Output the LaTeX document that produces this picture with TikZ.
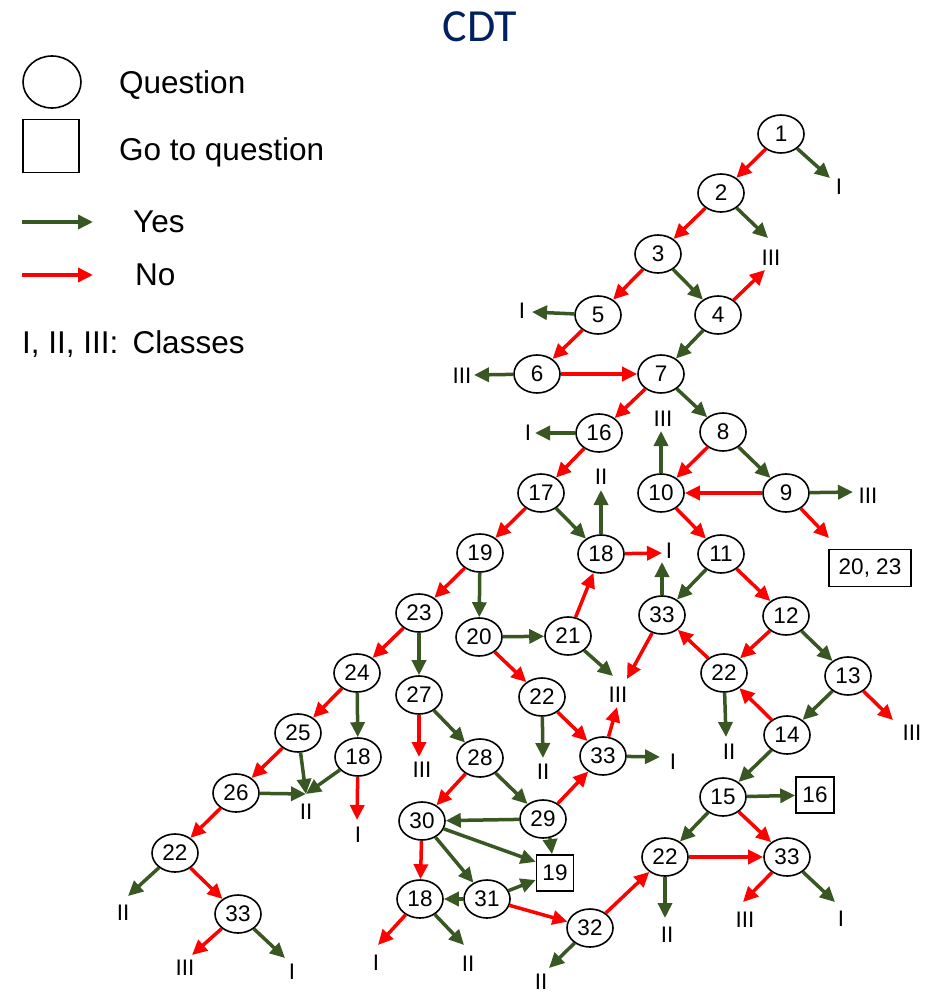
\documentclass[tikz,border=0pt]{standalone}
\usepackage{fontspec}
\setmainfont{Liberation Sans}
\newfontfamily\titlefont{Carlito}
\usetikzlibrary{shapes.geometric,arrows.meta}
\definecolor{ygreen}{RGB}{56,87,35}
\definecolor{nored}{RGB}{255,0,0}
\definecolor{navyblue}{RGB}{0,32,96}
\begin{document}
\begin{tikzpicture}[x=1pt,y=-1pt,
 qn/.style={ellipse,draw,line width=1.6pt,minimum width=46pt,minimum height=38pt,inner sep=0pt,font=\fontsize{22.5}{22.5}\selectfont},
 gobox/.style={draw,line width=1.6pt,inner sep=0pt,font=\fontsize{22.5}{22.5}\selectfont},
 cls/.style={inner sep=0pt,font=\fontsize{22.5}{22.5}\selectfont},
 yes/.style={draw=ygreen,line width=3.5pt,-{Triangle[length=15pt,width=14pt]}},
 no/.style={draw=nored,line width=3.5pt,-{Triangle[length=15pt,width=14pt]}},
 leg/.style={inner sep=0pt,anchor=base west,font=\fontsize{31.5}{31.5}\selectfont}]
\useasboundingbox (0,0) rectangle (935,995);

% title
\node[inner sep=0pt,anchor=base,text=navyblue,font=\titlefont\fontsize{46}{46}\selectfont] (title) at (480,42) {CDT};

% legend
\node[ellipse,draw,line width=1.6pt,minimum width=58pt,minimum height=52pt] (legq) at (52,82) {};
\node[draw,line width=1.6pt,minimum width=56pt,minimum height=53pt] (legb) at (51,146) {};
\node[leg] (tq) at (119,94) {Question};
\node[leg] (tg) at (119,161) {Go to question};
\coordinate (ya) at (22,222); \coordinate (yb) at (93,222);
\coordinate (na) at (22,275); \coordinate (nb) at (93,275);
\draw[yes] (ya) -- (yb);
\draw[no] (na) -- (nb);
\node[leg] (ty) at (133,232) {Yes};
\node[leg] (tn) at (135,285) {No};
\node[leg] (tc) at (22,353) {I, II, III:\, Classes};

% question nodes
\node[qn] (n1) at (781,134) {1};
\node[qn] (n2) at (721,193) {2};
\node[qn] (n3) at (658,254) {3};
\node[qn] (n4) at (718,315) {4};
\node[qn] (n5) at (598,315) {5};
\node[qn] (n6) at (537,374) {6};
\node[qn] (n7) at (661,374) {7};
\node[qn] (n16) at (599,433) {16};
\node[qn] (n8) at (723,432) {8};
\node[qn] (n10) at (661,493) {10};
\node[qn] (n9) at (786,493) {9};
\node[qn] (n17) at (541,493) {17};
\node[qn] (n18a) at (601,554) {18};
\node[qn] (n19) at (480,553) {19};
\node[qn] (n11) at (721,554) {11};
\node[qn] (n33a) at (662,615) {33};
\node[qn] (n12) at (786,616) {12};
\node[qn] (n23) at (419,613) {23};
\node[qn] (n20) at (479,637) {20};
\node[qn] (n21) at (568,636) {21};
\node[qn] (n22c) at (724,673) {22};
\node[qn] (n13) at (848,676) {13};
\node[qn] (n24) at (357,673) {24};
\node[qn] (n27) at (419,695) {27};
\node[qn] (n22b) at (542,697) {22};
\node[qn] (n14) at (787,735) {14};
\node[qn] (n25) at (298,733) {25};
\node[qn] (n18b) at (358,757) {18};
\node[qn] (n28) at (480,758) {28};
\node[qn] (n33b) at (603,756) {33};
\node[qn] (n26) at (236,793) {26};
\node[qn] (n15) at (723,797) {15};
\node[qn] (n29) at (543,819) {29};
\node[qn] (n30) at (422,821) {30};
\node[qn] (n22a) at (175,853) {22};
\node[qn] (n22d) at (665,857) {22};
\node[qn] (n33c) at (787,857) {33};
\node[qn] (n18c) at (420,899) {18};
\node[qn] (n31) at (487,899) {31};
\node[qn] (n33d) at (238,914) {33};
\node[qn] (n32) at (590,928) {32};

% go-to boxes
\node[gobox,minimum width=82pt,minimum height=37pt] (b2023) at (870,568) {20, 23};
\node[gobox,minimum width=38pt,minimum height=36pt] (b16) at (815,795) {16};
\node[gobox,minimum width=37pt,minimum height=36pt] (b19) at (555,873) {19};

% class labels
\node[cls] (L1) at (839,187) {I};
\node[cls] (L2) at (771,258) {III};
\node[cls] (L5) at (522,311) {I};
\node[cls] (L6) at (462,376) {III};
\node[cls] (L16) at (528,433) {I};
\node[cls] (L10) at (663,419) {III};
\node[cls] (L9) at (868,496) {III};
\node[cls] (L18u) at (601,477) {II};
\node[cls] (L18r) at (669,551) {I};
\node[cls] (L21) at (618,695) {III};
\node[cls] (L22b) at (543,772) {II};
\node[cls] (L33b) at (673,762) {I};
\node[cls] (L27) at (422,770) {III};
\node[cls] (L22c) at (729,752) {II};
\node[cls] (L13) at (912,733) {III};
\node[cls] (L22d) at (667,935) {II};
\node[cls] (L33cl) at (745,920) {III};
\node[cls] (L33cr) at (841,919) {I};
\node[cls] (L32) at (541,982) {II};
\node[cls] (L18cl) at (376,963) {I};
\node[cls] (L18cr) at (468,964) {II};
\node[cls] (L25) at (306,812) {II};
\node[cls] (L18b) at (358,835) {I};
\node[cls] (L22a) at (123,913) {II};
\node[cls] (L33dl) at (185,968) {III};
\node[cls] (L33dr) at (292,972) {I};

% arrow tips at classes
\coordinate (t1) at (830,178);
\coordinate (t2a) at (768,238);
\coordinate (t2b) at (765,270);
\coordinate (t5) at (532,312);
\coordinate (t6) at (474,375);
\coordinate (t16) at (535,433);
\coordinate (t10) at (661,431);
\coordinate (t9) at (853,492);
\coordinate (t9b) at (829,538);
\coordinate (t18u) at (601,490);
\coordinate (t18r) at (662,553);
\coordinate (t33u) at (662,562);
\coordinate (t33d) at (627,679);
\coordinate (t21) at (613,676);
\coordinate (t33bu) at (617,707);
\coordinate (t22b) at (543,758);
\coordinate (t33br) at (660,757);
\coordinate (t27) at (419,757);
\coordinate (t22c) at (726,737);
\coordinate (t13) at (893,720);
\coordinate (t22d) at (665,918);
\coordinate (t33cl) at (743,902);
\coordinate (t33cr) at (835,902);
\coordinate (t32) at (549,968);
\coordinate (t18cl) at (378,945);
\coordinate (t18cr) at (464,945);
\coordinate (t25) at (306,794);
\coordinate (t18b) at (357,820);
\coordinate (t22a) at (128,896);
\coordinate (t33dl) at (192,955);
\coordinate (t33dr) at (285,958);

% connectors
\draw[no] (n1) -- (n2);
\draw[yes] (n1) -- (t1);
\draw[no] (n2) -- (n3);
\draw[yes] (n2) -- (t2a);
\draw[no] (n3) -- (n5);
\draw[yes] (n3) -- (n4);
\draw[no] (n4) -- (t2b);
\draw[yes] (n4) -- (n7);
\draw[yes] (n5) -- (t5);
\draw[no] (n5) -- (n6);
\draw[yes] (n6) -- (t6);
\draw[no] (n6) -- (n7);
\draw[no] (n7) -- (n16);
\draw[yes] (n7) -- (n8);
\draw[yes] (n16) -- (t16);
\draw[no] (n16) -- (n17);
\draw[no] (n8) -- (n10);
\draw[yes] (n8) -- (n9);
\draw[yes] (n10) -- (t10);
\draw[no] (n10) -- (n11);
\draw[no] (n9) -- (n10);
\draw[yes] (n9) -- (t9);
\draw[no] (n9) -- (t9b);
\draw[no] (n17) -- (n19);
\draw[yes] (n17) -- (n18a);
\draw[yes] (n18a) -- (t18u);
\draw[no] (n18a) -- (t18r);
\draw[yes] (n11) -- (n33a);
\draw[no] (n11) -- (n12);
\draw[yes] (n33a) -- (t33u);
\draw[no] (n33a) -- (t33d);
\draw[no] (n12) -- (n22c);
\draw[yes] (n12) -- (n13);
\draw[no] (n19) -- (n23);
\draw[yes] (n19) -- (n20);
\draw[yes] (n20) -- (n21);
\draw[no] (n20) -- (n22b);
\draw[no] (n21) -- (n18a);
\draw[yes] (n21) -- (t21);
\draw[no] (n22c) -- (n33a);
\draw[yes] (n22c) -- (t22c);
\draw[no] (n13) -- (t13);
\draw[yes] (n13) -- (n14);
\draw[no] (n14) -- (n22c);
\draw[yes] (n14) -- (n15);
\draw[no] (n23) -- (n24);
\draw[yes] (n23) -- (n27);
\draw[yes] (n22b) -- (t22b);
\draw[no] (n22b) -- (n33b);
\draw[no] (n33b) -- (t33bu);
\draw[yes] (n33b) -- (t33br);
\draw[no] (n27) -- (t27);
\draw[yes] (n27) -- (n28);
\draw[no] (n28) -- (n30);
\draw[yes] (n28) -- (n29);
\draw[no] (n29) -- (n33b);
\draw[yes] (n29) -- (n30);
\draw[yes] (n29.-70) -- ([xshift=-3pt]b19.north);
\draw[yes] (n30) -- (b19.150);
\draw[yes] (n30) -- (n31);
\draw[no] (n30) -- (n18c);
\draw[yes] (n31) -- (n18c);
\draw[yes] (n31) -- (b19.200);
\draw[no] (n31) -- (n32);
\draw[no] (n32) -- (n22d);
\draw[yes] (n32) -- (t32);
\draw[yes] (n15) -- (b16);
\draw[yes] (n15) -- (n22d);
\draw[no] (n15) -- (n33c);
\draw[no] (n22d) -- (n33c);
\draw[yes] (n22d) -- (t22d);
\draw[no] (n33c) -- (t33cl);
\draw[yes] (n33c) -- (t33cr);
\draw[no] (n24) -- (n25);
\draw[yes] (n24) -- (n18b);
\draw[no] (n25) -- (n26);
\draw[yes] (n25) -- (t25);
\draw[yes] (n18b) -- (t25);
\draw[no] (n18b) -- (t18b);
\draw[yes] (n26) -- (t25);
\draw[no] (n26) -- (n22a);
\draw[yes] (n22a) -- (t22a);
\draw[no] (n22a) -- (n33d);
\draw[no] (n33d) -- (t33dl);
\draw[yes] (n33d) -- (t33dr);
\draw[no] (n18c) -- (t18cl);
\draw[yes] (n18c) -- (t18cr);
\end{tikzpicture}
\end{document}
